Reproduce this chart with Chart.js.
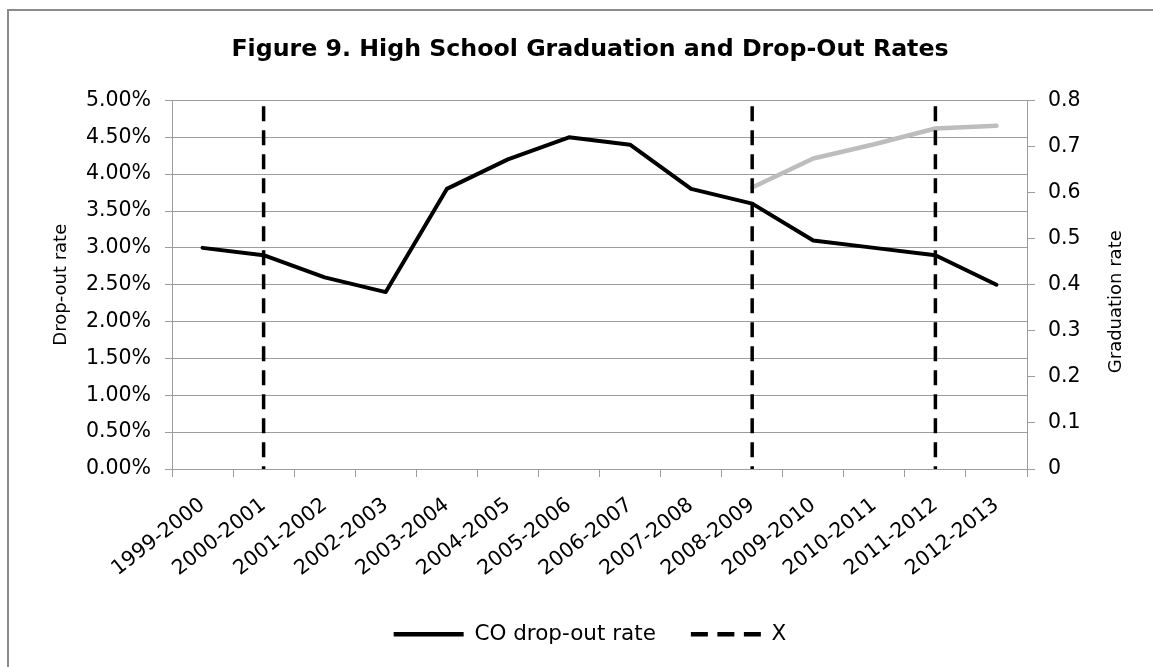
<!DOCTYPE html>
<html><head><meta charset="utf-8">
<script src="https://cdn.jsdelivr.net/npm/chart.js@4.4.0/dist/chart.umd.min.js"></script>
<style>
html,body{margin:0;padding:0;background:#fff;overflow:hidden;width:1153px;height:667px;}
#frame{position:absolute;left:7px;top:9px;width:2000px;height:2000px;border-left:2px solid #8a8a8a;border-top:2px solid #8a8a8a;}
#wrap{position:absolute;left:0;top:0;width:1180px;height:667px;}
</style></head><body>
<div id="frame"></div>
<div id="wrap"><canvas id="c" width="1180" height="667"></canvas></div>
<script>
const categories = ['1999-2000','2000-2001','2001-2002','2002-2003','2003-2004','2004-2005','2005-2006','2006-2007','2007-2008','2008-2009','2009-2010','2010-2011','2011-2012','2012-2013'];
const dropoutRate = [3.0, 2.9, 2.6, 2.4, 3.8, 4.2, 4.5, 4.4, 3.8, 3.6, 3.1, 3.0, 2.9, 2.5];
const graduationRate = [null, null, null, null, null, null, null, null, null, 0.611, 0.674, 0.705, 0.739, 0.745];
const markerCategories = ['2000-2001', '2008-2009', '2011-2012'];
const markerRange = [4.92, 0];
const titleText = 'Figure 9. High School Graduation and Drop-Out Rates';
const leftAxisTitle = 'Drop-out rate';
const rightAxisTitle = 'Graduation rate';
const dropoutLabel = 'CO drop-out rate';
const markerLabel = 'X';
const graduationLabel = 'Graduation rate';

const GRID = '#9d9d9d';
const FONT = 'DejaVu Sans';

const datasets = [
  {label: dropoutLabel, data: dropoutRate, yAxisID: 'y', borderColor: '#000', backgroundColor: '#000', borderWidth: 4,
   pointRadius: 0, tension: 0, borderJoinStyle: 'round', borderCapStyle: 'round', order: 1},
  {label: graduationLabel, data: graduationRate, yAxisID: 'y2', borderColor: '#bdbdbd', backgroundColor: '#bdbdbd', borderWidth: 4.5,
   pointRadius: 0, tension: 0, borderJoinStyle: 'round', borderCapStyle: 'round', spanGaps: false, order: 2}
];
markerCategories.forEach(c => {
  datasets.push({label: markerLabel, data: markerRange.map(v => ({x: c, y: v})), yAxisID: 'y',
    borderColor: '#000', backgroundColor: '#000', borderWidth: 3.5, borderDash: [15, 9], pointRadius: 0, order: 0});
});

const rightTitle = {
  id: 'rightTitle',
  afterDraw(chart) {
    const {ctx, chartArea} = chart;
    const s = chart.scales.y2;
    ctx.save();
    ctx.font = '18px "' + FONT + '"';
    ctx.fillStyle = '#000';
    ctx.translate(s.right - 64, (chartArea.top + chartArea.bottom) / 2 + 17);
    ctx.rotate(-Math.PI / 2);
    ctx.textAlign = 'center';
    ctx.textBaseline = 'middle';
    ctx.fillText(rightAxisTitle, 0, 0);
    ctx.restore();
  }
};

new Chart(document.getElementById('c'), {
  type: 'line',
  data: {labels: categories, datasets},
  plugins: [rightTitle],
  options: {
    responsive: false, animation: false, devicePixelRatio: 1,
    layout: {padding: {left: 0, right: 0, top: 0, bottom: 12}},
    plugins: {
      tooltip: {enabled: false},
      title: {display: true, text: titleText, color: '#000', font: {family: FONT, size: 23.7, weight: 'bold'}, padding: {top: 36, bottom: 36}},
      legend: {
        position: 'bottom',
        labels: {
          usePointStyle: true, pointStyleWidth: 70, padding: 35, color: '#000',
          font: {family: FONT, size: 21.5},
          generateLabels(chart) {
            const ds = chart.data.datasets;
            return [0, 2].map(i => ({
              text: ds[i].label, fillStyle: ds[i].borderColor, strokeStyle: ds[i].borderColor,
              lineWidth: 4.5, lineDash: ds[i].borderDash ? [17, 9.5] : [], lineCap: 'butt',
              pointStyle: 'line', datasetIndex: i, hidden: false, fontColor: '#000'
            }));
          }
        }
      }
    },
    scales: {
      x: {
        type: 'category', offset: true,
        grid: {offset: true, drawOnChartArea: false, color: GRID, tickLength: 8},
        border: {color: GRID, width: 1},
        ticks: {minRotation: 38, maxRotation: 38, autoSkip: false, color: '#000', padding: 16, font: {family: FONT, size: 20.5}},
        afterFit(s) { s.height = 119.5; }
      },
      y: {
        position: 'left', min: 0, max: 5,
        ticks: {stepSize: 0.5, padding: 14, color: '#000', font: {family: FONT, size: 20.5}, callback: v => Number(v).toFixed(2) + '%'},
        grid: {color: GRID, tickLength: 7},
        border: {color: GRID, width: 1},
        title: {display: true, text: leftAxisTitle, color: '#000', font: {family: FONT, size: 18}, padding: {top: 51, bottom: 0}},
        afterFit(s) { s.width = 172; }
      },
      y2: {
        position: 'right', min: 0, max: 0.8,
        ticks: {stepSize: 0.1, padding: 13, color: '#000', font: {family: FONT, size: 20.5}, callback: v => String(+Number(v).toFixed(1))},
        grid: {drawOnChartArea: false, color: GRID, tickLength: 8},
        border: {color: GRID, width: 1},
        afterFit(s) { s.width = 153; }
      }
    }
  }
});
</script>
</body></html>
